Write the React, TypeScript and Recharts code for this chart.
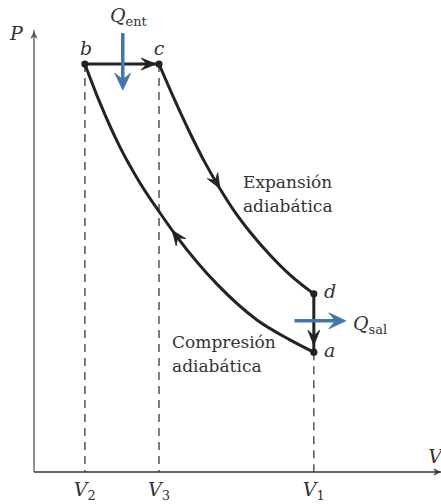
import React from "react";
import {
  ComposedChart,
  Line,
  XAxis,
  YAxis,
  ReferenceLine,
  ReferenceDot,
} from "recharts";

// ---- data (V in units of V2, P in arbitrary units) ----
const compressionV = [1.0, 1.297, 1.69, 2.084, 2.477, 2.811, 3.597, 4.383, 5.032, 5.5];
const compressionP = [9.23, 8.35, 7.35, 6.54, 5.86, 5.32, 4.25, 3.44, 2.99, 2.71];
const expansionV = [2.457, 2.771, 3.066, 3.361, 3.656, 3.951, 4.246, 4.639, 5.032, 5.5];
const expansionP = [9.23, 8.4, 7.67, 7.0, 6.41, 5.88, 5.43, 4.91, 4.46, 4.03];

const stateNames = ["a", "b", "c", "d"];
const stateV = [5.5, 1.0, 2.457, 5.5];
const stateP = [2.71, 9.23, 9.23, 4.03];

const volumeTicks = [1.0, 2.457, 5.5];
const volumeTickSubs = ["2", "3", "1"];

const SERIF = "'DejaVu Serif', 'Liberation Serif', serif";
const INK = "#232323";
const BLUE = "#4676a6";
const DASH = "#5e5e5e";

const toRows = (vs: number[], ps: number[]) => vs.map((v, i) => ({ v, p: ps[i] }));
const compressionData = toRows(compressionV, compressionP);
const expansionData = toRows(expansionV, expansionP);
const st = (name: string) => {
  const i = stateNames.indexOf(name);
  return { v: stateV[i], p: stateP[i] };
};
const heatInData = [st("b"), st("c")];
const heatOutData = [st("d"), st("a")];

function arrowHead(x1: number, y1: number, x2: number, y2: number, L: number, W: number, color: string) {
  const dx = x2 - x1;
  const dy = y2 - y1;
  const len = Math.hypot(dx, dy) || 1;
  const ux = dx / len;
  const uy = dy / len;
  const nx = -uy;
  const ny = ux;
  const bx = x2 - L * ux;
  const by = y2 - L * uy;
  const mx = x2 - 0.62 * L * ux;
  const my = y2 - 0.62 * L * uy;
  const d = `M${x2},${y2} L${bx + W * nx},${by + W * ny} L${mx},${my} L${bx - W * nx},${by - W * ny} Z`;
  return <path d={d} fill={color} stroke={color} strokeWidth={0.8} strokeLinejoin="round" />;
}

const headOnly = (color: string, L = 13, W = 5.5) => (props: any) => {
  const { x1, y1, x2, y2 } = props;
  return <g>{arrowHead(x1, y1, x2, y2, L, W, color)}</g>;
};

const fullArrow = (color: string, width: number, L: number, W: number) => (props: any) => {
  const { x1, y1, x2, y2 } = props;
  const dx = x2 - x1;
  const dy = y2 - y1;
  const len = Math.hypot(dx, dy) || 1;
  const ex = x2 - (dx / len) * L * 0.6;
  const ey = y2 - (dy / len) * L * 0.6;
  return (
    <g>
      <line x1={x1} y1={y1} x2={ex} y2={ey} stroke={color} strokeWidth={width} />
      {arrowHead(x1, y1, x2, y2, L, W, color)}
    </g>
  );
};

const dashedShape = (props: any) => {
  const { x1, y1, x2, y2 } = props;
  return <line x1={x1} y1={y1} x2={x2} y2={y2} stroke={DASH} strokeWidth={1.6} strokeDasharray="8 6" />;
};

type TextSpec = {
  v: number;
  p: number;
  main: string;
  sub?: string;
  italic?: boolean;
  size?: number;
  anchor?: "start" | "middle" | "end";
};

const textSpecs: TextSpec[] = [
  { v: 1.022, p: 9.43, main: "b", italic: true, size: 19, anchor: "middle" },
  { v: 2.457, p: 9.43, main: "c", italic: true, size: 19, anchor: "middle" },
  { v: 5.7, p: 3.94, main: "d", italic: true, size: 19 },
  { v: 5.7, p: 2.6, main: "a", italic: true, size: 19 },
  { v: 4.108, p: 6.43, main: "Expansión", size: 17 },
  { v: 4.108, p: 5.89, main: "adiabática", size: 17 },
  { v: 2.713, p: 2.81, main: "Compresión", size: 17 },
  { v: 2.713, p: 2.27, main: "adiabática", size: 17 },
  { v: 1.494, p: 10.18, main: "Q", sub: "ent", italic: true, size: 19 },
  { v: 6.27, p: 3.21, main: "Q", sub: "sal", italic: true, size: 19 },
  { v: -0.472, p: 9.77, main: "P", italic: true, size: 19 },
  { v: 7.75, p: 0.204, main: "V", italic: true, size: 19 },
];

const textShape = (t: TextSpec) => (props: any) => {
  const { cx, cy } = props;
  return (
    <text
      x={cx}
      y={cy}
      textAnchor={t.anchor || "start"}
      style={{ fontFamily: SERIF }}
      fontSize={t.size || 20}
      fill="#333"
    >
      <tspan fontStyle={t.italic ? "italic" : "normal"}>{t.main}</tspan>
      {t.sub ? (
        <tspan fontStyle="normal" fontSize={(t.size || 20) * 0.68} dy={4}>
          {t.sub}
        </tspan>
      ) : null}
    </text>
  );
};

const VTick = (props: any) => {
  const { x, y, payload } = props;
  const idx = volumeTicks.indexOf(payload.value);
  return (
    <text x={x} y={y + 16} textAnchor="middle" style={{ fontFamily: SERIF }} fontSize={19} fill="#333">
      <tspan fontStyle="italic">V</tspan>
      <tspan fontSize={13} dy={4}>
        {volumeTickSubs[idx]}
      </tspan>
    </text>
  );
};

const dotShape = (props: any) => <circle cx={props.cx} cy={props.cy} r={3.6} fill={INK} />;

export default function App() {
  return (
    <div style={{ position: "absolute", left: 0, top: 0, background: "#fff", fontFamily: SERIF }}>
      <ComposedChart width={441} height={504} margin={{ top: 30, right: 0, bottom: 0, left: 0 }}>
        <XAxis
          type="number"
          dataKey="v"
          domain={[0, 8]}
          ticks={volumeTicks}
          tick={<VTick />}
          tickLine={false}
          axisLine={{ stroke: "#333", strokeWidth: 1.6 }}
          height={32}
          allowDataOverflow
        />
        <YAxis
          type="number"
          dataKey="p"
          domain={[0, 10]}
          tick={false}
          tickLine={false}
          axisLine={{ stroke: "#555", strokeWidth: 1.3 }}
          width={34}
          allowDataOverflow
        />

        {/* dashed guides */}
        <ReferenceLine segment={[{ x: st("b").v, y: st("b").p }, { x: st("b").v, y: 0 }]} shape={dashedShape} ifOverflow="visible" />
        <ReferenceLine segment={[{ x: st("c").v, y: st("c").p }, { x: st("c").v, y: 0 }]} shape={dashedShape} ifOverflow="visible" />
        <ReferenceLine segment={[{ x: st("a").v, y: st("a").p }, { x: st("a").v, y: 0 }]} shape={dashedShape} ifOverflow="visible" />

        {/* cycle */}
        <Line data={compressionData} dataKey="p" type="monotone" stroke={INK} strokeWidth={3} dot={false} activeDot={false} isAnimationActive={false} />
        <Line data={expansionData} dataKey="p" type="monotone" stroke={INK} strokeWidth={3} dot={false} activeDot={false} isAnimationActive={false} />
        <Line data={heatInData} dataKey="p" type="linear" stroke={INK} strokeWidth={3} dot={false} activeDot={false} isAnimationActive={false} />
        <Line data={heatOutData} dataKey="p" type="linear" stroke={INK} strokeWidth={3} dot={false} activeDot={false} isAnimationActive={false} />

        {/* direction arrowheads */}
        <ReferenceLine segment={[{ x: 1.8, y: 9.23 }, { x: 2.4, y: 9.23 }]} shape={headOnly(INK, 15, 6)} ifOverflow="visible" />
        <ReferenceLine segment={[{ x: 5.5, y: 3.6 }, { x: 5.5, y: 2.87 }]} shape={headOnly(INK, 15, 6)} ifOverflow="visible" />
        <ReferenceLine segment={[{ x: 3.361, y: 7.0 }, { x: 3.656, y: 6.41 }]} shape={headOnly(INK, 15, 6)} ifOverflow="visible" />
        <ReferenceLine segment={[{ x: 3.2, y: 4.72 }, { x: 2.713, y: 5.47 }]} shape={headOnly(INK, 15, 6)} ifOverflow="visible" />

        {/* heat arrows */}
        <ReferenceLine segment={[{ x: 1.745, y: 9.93 }, { x: 1.745, y: 8.64 }]} shape={fullArrow(BLUE, 3.5, 17, 8)} ifOverflow="visible" />
        <ReferenceLine segment={[{ x: 5.12, y: 3.42 }, { x: 6.13, y: 3.42 }]} shape={fullArrow(BLUE, 3.5, 17, 8)} ifOverflow="visible" />

        {/* axis end markers */}
        <ReferenceLine segment={[{ x: 0, y: 9.6 }, { x: 0, y: 9.95 }]} shape={headOnly("#555", 6, 3)} ifOverflow="visible" />
        <ReferenceLine segment={[{ x: 7.7, y: 0 }, { x: 7.98, y: 0 }]} shape={headOnly("#333", 6, 3)} ifOverflow="visible" />

        {/* state points */}
        {stateNames.map((n, i) => (
          <ReferenceDot key={n} x={stateV[i]} y={stateP[i]} shape={dotShape} ifOverflow="visible" />
        ))}

        {/* texts */}
        {textSpecs.map((t, i) => (
          <ReferenceDot key={"t" + i} x={t.v} y={t.p} shape={textShape(t)} ifOverflow="visible" />
        ))}
      </ComposedChart>
    </div>
  );
}
